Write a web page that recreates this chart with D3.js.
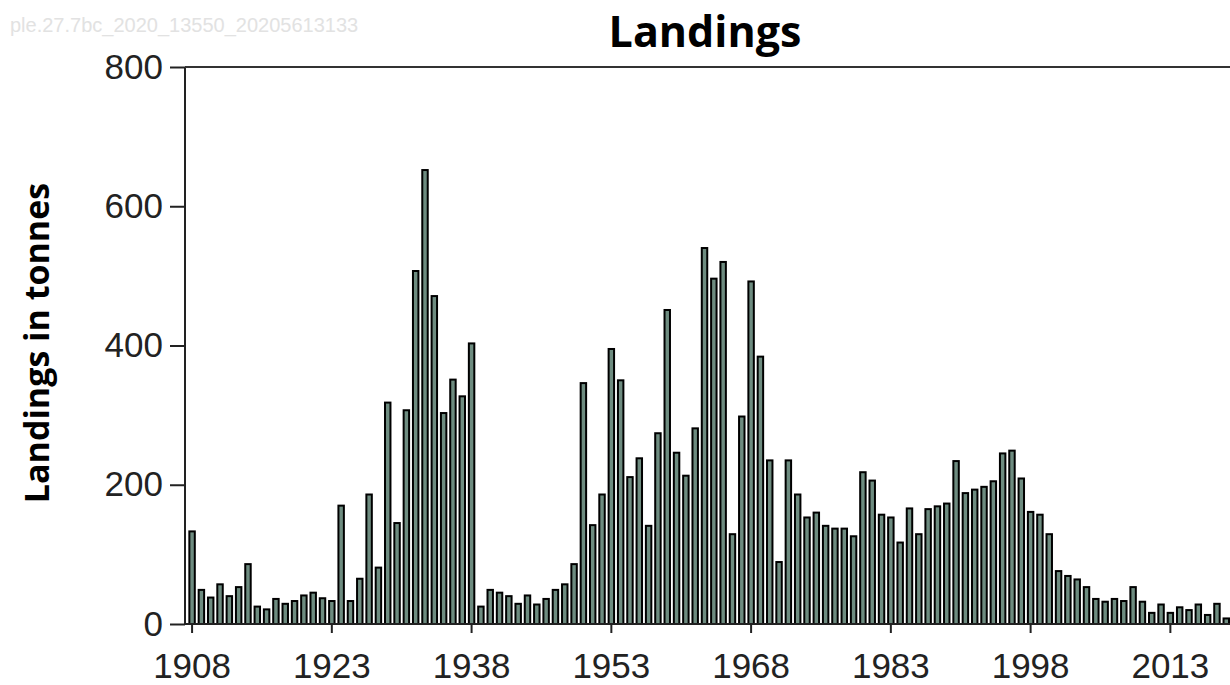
<!DOCTYPE html>
<html><head><meta charset="utf-8">
<script src="https://cdn.jsdelivr.net/npm/d3@7"></script>
<style>body{margin:0;background:#fff;}svg{display:block;}</style>
</head><body>
<svg id="c" width="1230" height="685"></svg>
<script>
const years = d3.range(1908, 2020);
const landings = [
 133, 49, 38, 57, 40, 53, 86, 25, 21, 36,
 29, 33, 41, 45, 37, 33, 170, 33, 65, 186,
 81, 318, 145, 307, 507, 652, 471, 303, 351, 327,
 403, 25, 49, 45, 40, 29, 41, 28, 36, 49,
 57, 86, 346, 142, 186, 395, 350, 211, 238, 141,
 274, 451, 246, 213, 281, 540, 496, 520, 129, 298,
 492, 384, 235, 89, 235, 186, 153, 160, 141, 137,
 137, 126, 218, 206, 157, 153, 117, 166, 129, 165,
 169, 173, 234, 188, 193, 197, 205, 245, 249, 209,
 161, 157, 129, 76, 69, 64, 53, 36, 32, 36,
 33, 53, 32, 16, 28, 16, 24, 20, 28, 13,
 29, 8
];
const yTicks = [0, 200, 400, 600, 800];
const xTickYears = [1908, 1923, 1938, 1953, 1968, 1983, 1998, 2013];
const titleText = "Landings";
const yLabel = "Landings in tonnes";
const watermark = "ple.27.7bc_2020_13550_20205613133";

const svg = d3.select("#c");
const plotLeft = 185, plotTop = 67, plotBottom = 624;
const x = d3.scaleBand().domain(years).range([188.35, 1230]).paddingInner(0.2).paddingOuter(0);
const y = d3.scaleLinear().domain([0, 800]).range([plotBottom, plotTop]);

svg.append("text").attr("x", 10).attr("y", 32).attr("font-family", "Liberation Sans, Arial, sans-serif")
  .attr("font-size", 20).attr("fill", "#e2e2e2").text(watermark);

svg.append("text").attr("x", 705).attr("y", 46.5).attr("text-anchor", "middle")
  .attr("font-family", "Open Sans, sans-serif").attr("font-weight", "bold")
  .attr("font-size", 43).attr("fill", "#000").text(titleText);

svg.append("text").attr("transform", "translate(49,343) rotate(-90)").attr("text-anchor", "middle")
  .attr("font-family", "Open Sans, sans-serif").attr("font-weight", "bold")
  .attr("font-size", 34).attr("fill", "#000").text(yLabel);

// bars
const sw = 2;
svg.append("g").selectAll("rect").data(years.map((yr, i) => ({yr, v: landings[i]})))
  .join("rect")
  .attr("x", d => x(d.yr) + sw / 2)
  .attr("width", x.bandwidth() - sw)
  .attr("y", d => y(d.v))
  .attr("height", d => plotBottom - y(d.v))
  .attr("fill", "#6e8c80").attr("stroke", "#000").attr("stroke-width", sw);

// y axis
const ya = svg.append("g").attr("transform", `translate(${plotLeft},0)`)
  .call(d3.axisLeft(y).tickValues(yTicks).tickSize(15).tickPadding(7).tickFormat(d3.format("d")));
ya.select(".domain").attr("stroke", "#222").attr("stroke-width", 2).attr("d", `M0,${plotBottom}V${plotTop}`);
ya.selectAll(".tick line").attr("stroke", "#222").attr("stroke-width", 2);
ya.selectAll(".tick text").attr("font-family", "Liberation Sans, Arial, sans-serif").attr("font-size", 35).attr("fill", "#222");

// x axis
const xa = svg.append("g").attr("transform", `translate(0,${plotBottom})`)
  .call(d3.axisBottom(x).tickValues(xTickYears).tickSize(9).tickPadding(20));
xa.select(".domain").attr("stroke", "#222").attr("stroke-width", 2).attr("d", `M${plotLeft},0H1230`);
xa.selectAll(".tick line").attr("stroke", "#222").attr("stroke-width", 2);
xa.selectAll(".tick text").attr("font-family", "Liberation Sans, Arial, sans-serif").attr("font-size", 35).attr("fill", "#222");

// top frame line
svg.append("line").attr("x1", plotLeft).attr("x2", 1230).attr("y1", y(800)).attr("y2", y(800))
  .attr("stroke", "#333").attr("stroke-width", 2);
</script>
</body></html>
